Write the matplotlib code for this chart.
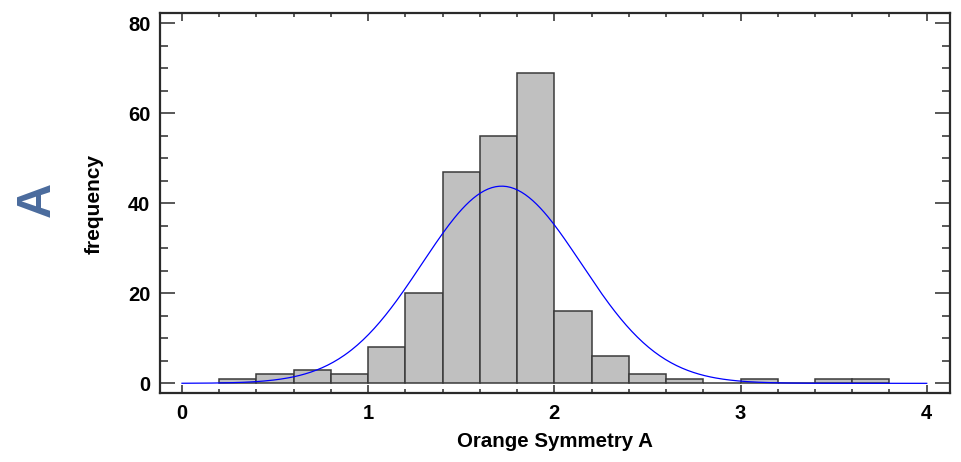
"""
Histogram of Orange Symmetry A with fitted normal curve
"""

import numpy as np
import matplotlib.pyplot as plt
from matplotlib.ticker import MultipleLocator

plt.rcParams['font.family'] = ['Liberation Sans', 'DejaVu Sans']

# ============================================================
# data
# ============================================================
bin_left = [0.2, 0.4, 0.6, 0.8, 1.0, 1.2, 1.4, 1.6, 1.8, 2.0,
            2.2, 2.4, 2.6, 2.8, 3.0, 3.2, 3.4, 3.6]
counts = [1, 2, 3, 2, 8, 20, 47, 55, 69, 16,
          6, 2, 1, 0, 1, 0, 1, 1]
bin_width = 0.2

# fitted normal curve parameters
fit_mean = 1.717
fit_sd = 0.428
fit_range = (0.0, 4.0)

x_ticks = [0, 1, 2, 3, 4]
y_ticks = [0, 20, 40, 60, 80]

# ============================================================
# figure
# ============================================================
W, H = 961, 462
fig = plt.figure(figsize=(W / 100, H / 100), dpi=100)
ax = fig.add_axes([160 / W, 1 - 393 / H, 790 / W, 380.3 / H])

ax.bar(bin_left, counts, width=bin_width, align='edge',
       color='#c0c0c0', edgecolor='#3a3a3a', linewidth=1.1, zorder=2)

n_total = sum(counts)
xs = np.linspace(fit_range[0], fit_range[1], 400)
ys = n_total * bin_width / (fit_sd * np.sqrt(2 * np.pi)) * \
    np.exp(-0.5 * ((xs - fit_mean) / fit_sd) ** 2)
ax.plot(xs, ys, color='#0000ff', linewidth=0.9, zorder=3)

ax.set_xlim(-0.118, 4.125)
ax.set_ylim(-2.15, 82.35)

ax.set_xticks(x_ticks)
ax.set_yticks(y_ticks)
ax.xaxis.set_minor_locator(MultipleLocator(0.2))
ax.yaxis.set_minor_locator(MultipleLocator(5))

for s in ax.spines.values():
    s.set_linewidth(1.6)
    s.set_color('#2a2a2a')

ax.tick_params(axis='y', which='major', direction='in', length=11,
               width=1.1, color='#2a2a2a', left=True, right=True, pad=7)
ax.tick_params(axis='y', which='minor', direction='in', length=5.5,
               width=1.1, color='#2a2a2a', left=True, right=True)
ax.tick_params(axis='x', which='major', direction='in', length=5.5,
               width=1.1, color='#2a2a2a', bottom=True, top=True, pad=8)
ax.tick_params(axis='x', which='minor', direction='in', length=3,
               width=1.1, color='#2a2a2a', bottom=True, top=True)
for lab in ax.get_xticklabels() + ax.get_yticklabels():
    lab.set_fontsize(14.5)
    lab.set_fontweight('bold')

# ============================================================
# labels
# ============================================================
fig.text(554.5 / W, 1 - 446.7 / H, 'Orange Symmetry A', fontsize=14.8,
         fontweight='bold', ha='center', va='baseline')
fig.text(94 / W, 1 - 203.5 / H, 'frequency', fontsize=15,
         fontweight='bold', rotation=90, ha='center', va='center')
fig.text(37 / W, 1 - 199.5 / H, 'A', fontsize=35, fontweight='bold',
         color='#4a6b9d', rotation=90, ha='center', va='center')

fig.savefig('out.png', dpi=100)
